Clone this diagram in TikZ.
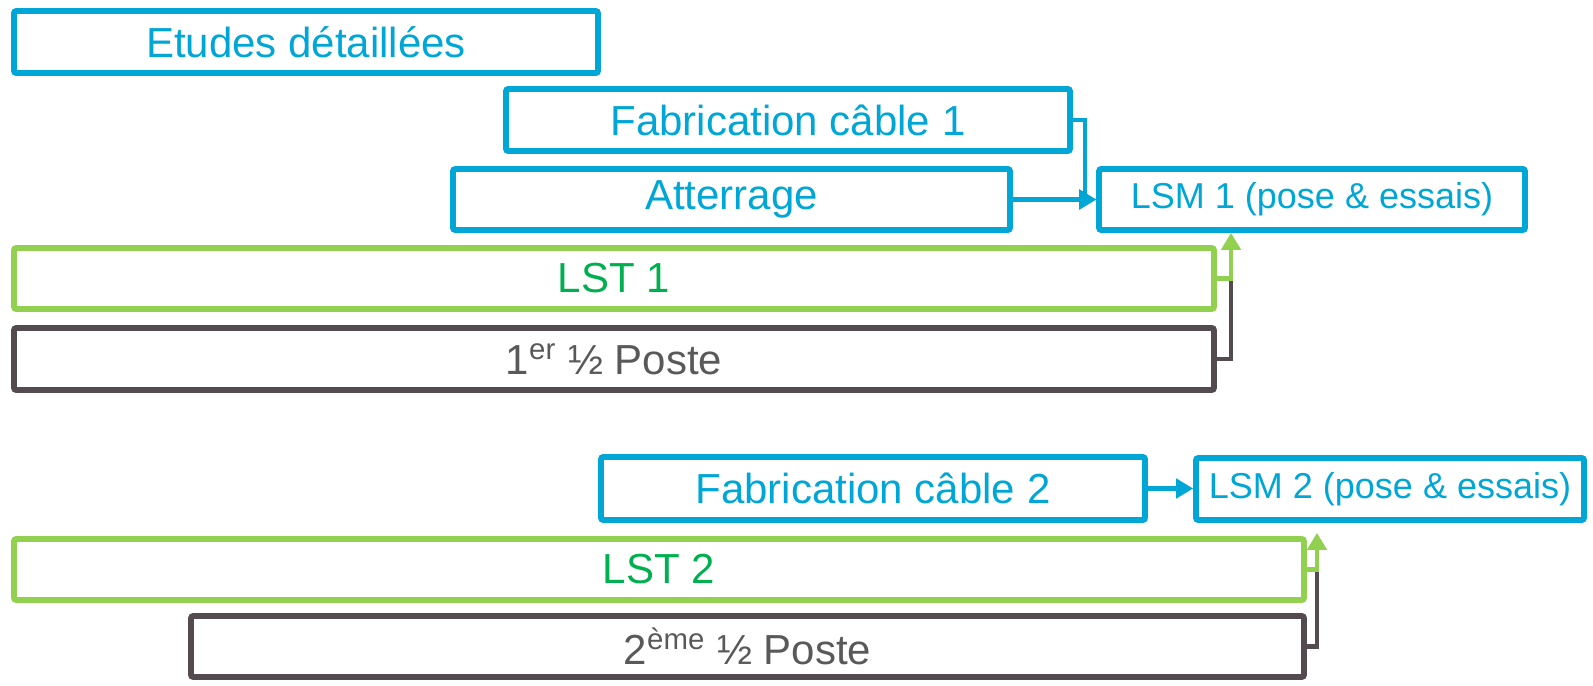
\documentclass[tikz,border=0pt]{standalone}
\usepackage{fontspec}
\setmainfont{Liberation Sans}
\usetikzlibrary{arrows.meta}

\definecolor{bleu}{RGB}{0,166,214}
\definecolor{vert}{RGB}{146,208,80}
\definecolor{vertfonce}{RGB}{0,176,80}
\definecolor{gris}{RGB}{84,75,80}
\definecolor{gristexte}{RGB}{89,89,89}

\tikzset{
  tache/.style={draw, line width=2.8pt, rounded corners=1pt, inner sep=0pt, font=\fontsize{21}{25}\selectfont},
  bleutache/.style={tache, draw=bleu, text=bleu},
  verttache/.style={tache, draw=vert, text=vertfonce},
  gristache/.style={tache, draw=gris, text=gristexte},
  lsm/.style={bleutache, font=\fontsize{18}{22}\selectfont},
  bline/.style={draw=bleu, line width=2.2pt},
  gline/.style={draw=vert, line width=2.2pt},
  dline/.style={draw=gris, line width=2.2pt},
  tip/.style={-{Triangle[length=8.5pt,width=9.5pt]}}
}

\begin{document}
\begin{tikzpicture}[x=0.5pt, y=-0.5pt]

      \useasboundingbox (0,0) rectangle (1593,685);

      \node[bleutache, minimum width=292pt, minimum height=31pt] (etudes) at (306,42) {Etudes détaillées};
      \node[bleutache, minimum width=282pt, minimum height=31pt] (fab1) at (788,120) {Fabrication câble 1};
      \node[bleutache, minimum width=278.5pt, minimum height=30.5pt] (atterrage) at (731.5,199.5) {Atterrage};
      \node[lsm, minimum width=213pt, minimum height=30.5pt] (lsm1) at (1312,199.5) {LSM 1 (pose \& essais)};
      \node[verttache, minimum width=600pt, minimum height=30.5pt] (lst1) at (614,278.5) {LST 1};
      \node[gristache, minimum width=600pt, minimum height=31pt] (poste1) at (614,359) {1\textsuperscript{er} ½ Poste};

      \node[bleutache, minimum width=272pt, minimum height=31.5pt] (fab2) at (873,488.5) {Fabrication câble 2};
      \node[lsm, minimum width=194pt, minimum height=31pt] (lsm2) at (1390,489) {LSM 2 (pose \& essais)};
      \node[verttache, minimum width=645pt, minimum height=30.5pt] (lst2) at (659,569.5) {LST 2};
      \node[gristache, minimum width=556.5pt, minimum height=30.5pt] (poste2) at (747.5,646.5) {2\textsuperscript{ème} ½ Poste};

      % liaisons vers LSM 1
      \coordinate (k1) at (1085,199.5);
      \coordinate (g1) at (1231,278.5);
      \draw[bline, tip] (fab1.east) -| (k1) -- (lsm1.west);
      \draw[bline, tip] (atterrage.east) -- (lsm1.west);
      \draw[dline] (poste1.east) -| (g1);
      \draw[gline, tip] (lst1.east) -- (g1) -- (g1 |- lsm1.south);

      % liaisons vers LSM 2
      \coordinate (g2) at (1317,569.5);
      \draw[bline, tip] (fab2.east) -- (fab2.east -| lsm2.west);
      \draw[dline] (poste2.east) -| (g2);
      \draw[gline, tip, shorten >=5pt] (lst2.east) -- (g2) -- (g2 |- lsm2.south);

    \end{tikzpicture}
\end{document}
